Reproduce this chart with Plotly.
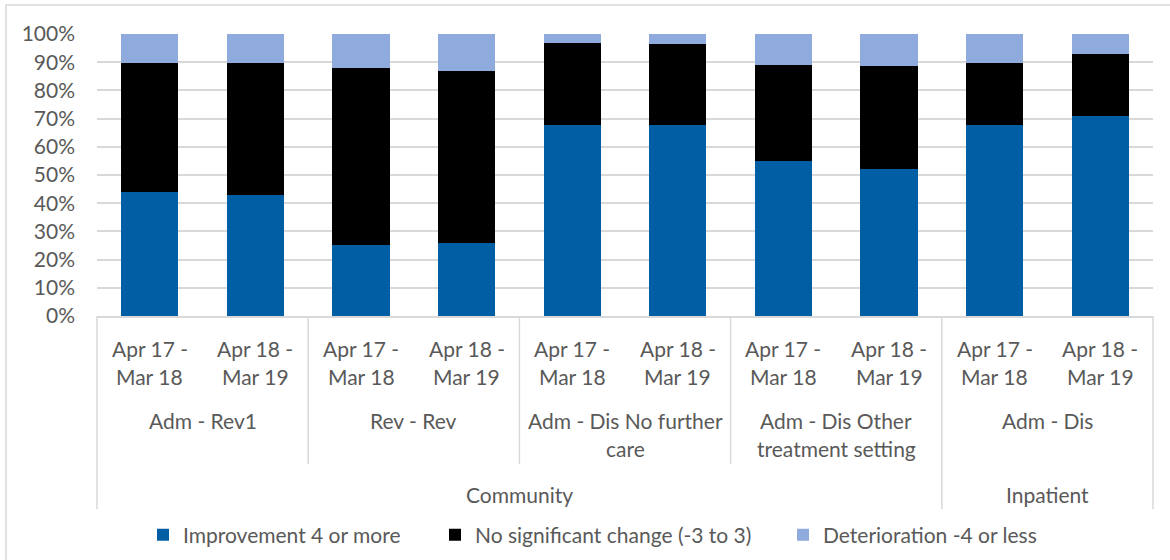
import plotly.graph_objects as go

# values in %
PERIODS = ["Apr 17 -\nMar 18", "Apr 18 -\nMar 19"]
GROUPS = ["Adm - Rev1", "Rev - Rev", "Adm - Dis No further\ncare",
          "Adm - Dis Other\ntreatment setting", "Adm - Dis"]
SETTINGS = ["Community", "Inpatient"]
SETTING_SIZES = [4, 1]  # groups per setting

improvement = [43.8, 43.0, 25.2, 25.8, 67.9, 67.9, 55.1, 52.1, 67.9, 71.0]
no_change = [45.8, 46.6, 62.6, 61.1, 29.0, 28.7, 33.9, 36.5, 21.9, 22.0]
deterioration = [10.4, 10.4, 12.2, 13.1, 3.1, 3.4, 11.0, 11.4, 10.2, 7.0]

SERIES = [
    ("Improvement 4 or more", improvement, "#005EA4"),
    ("No significant change (-3 to 3)", no_change, "#000000"),
    ("Deterioration -4 or less", deterioration, "#8FAADC"),
]

TEXT = "#595959"
GRID = "#D9D9D9"
FONT = "Lato, 'Open Sans', sans-serif"
FS = 21

W, H = 1170, 560
L, R, T, B = 97, 17, 34, 244
PH = H - T - B
PW = W - L - R

n = len(PERIODS) * len(GROUPS)
xs = list(range(n))


def px_y(py):
    # pixel row -> paper y
    return (H - B - py) / PH


def px_x(px):
    # pixel column -> paper x
    return (px - L) / PW


def cat_x(idx):
    # category index boundary -> paper x
    return (idx + 0.5) / n


fig = go.Figure()
legend_left = [143, 435, 783]
legends = {}
for k, (name, vals, col) in enumerate(SERIES):
    lid = "legend" if k == 0 else f"legend{k + 1}"
    fig.add_trace(go.Bar(x=xs, y=vals, name=name, legend=lid,
                         marker=dict(color=col, line=dict(width=0))))
    legends[lid] = dict(orientation="h", x=px_x(legend_left[k]), xanchor="left",
                        y=px_y(535), yanchor="middle", bgcolor="rgba(0,0,0,0)",
                        font=dict(family=FONT, size=FS, color=TEXT), itemwidth=30)


def label(x, text, row):
    for i, line in enumerate(text.split("\n")):
        fig.add_annotation(x=x, xref="x", y=0, yref="paper", yanchor="middle",
                           yshift=-(row + 28 * i - (H - B)), text=line, showarrow=False,
                           font=dict(family=FONT, size=FS, color=TEXT))


# level 1: periods
for i in xs:
    label(i, PERIODS[i % len(PERIODS)], 348)
# level 2: groups
for g, name in enumerate(GROUPS):
    label(g * 2 + 0.5, name, 420)
# level 3: settings
start = 0
for name, size in zip(SETTINGS, SETTING_SIZES):
    span = size * len(PERIODS)
    label(start + span / 2 - 0.5, name, 494)
    start += span

# separators
shapes = []
for g in range(len(GROUPS) + 1):
    b = g * len(PERIODS) - 0.5
    long_ = g == 0 or g == len(GROUPS) or g == SETTING_SIZES[0]
    bottom = 509 if long_ else 464
    shapes.append(dict(type="line", xref="paper", yref="paper", x0=cat_x(b), x1=cat_x(b),
                       y0=0, y1=px_y(bottom), line=dict(color=GRID, width=1.5)))
# outer chart border
shapes.append(dict(type="rect", xref="paper", yref="paper",
                   x0=px_x(6), x1=px_x(W + 5), y0=px_y(H + 5), y1=px_y(5),
                   line=dict(color=GRID, width=1.5), layer="below"))

fig.update_layout(
    width=W, height=H,
    margin=dict(l=L, r=R, t=T, b=B, autoexpand=False),
    barmode="stack", bargap=0.46,
    paper_bgcolor="white", plot_bgcolor="white",
    font=dict(family=FONT, size=FS, color=TEXT),
    shapes=shapes,
    showlegend=True,
    xaxis=dict(range=[-0.5, n - 0.5], showticklabels=False, showgrid=False, zeroline=False,
               showline=True, linecolor=GRID, linewidth=1.5, fixedrange=True),
    yaxis=dict(range=[0, 100], dtick=10, ticksuffix="%", showgrid=True, gridcolor=GRID,
               gridwidth=1.5, zeroline=False, ticklabelstandoff=21,
               tickfont=dict(family=FONT, size=FS, color=TEXT)),
    **legends,
)

fig.write_html("out.html", config={"displayModeBar": False},
               post_script="document.body.style.margin='0';")
